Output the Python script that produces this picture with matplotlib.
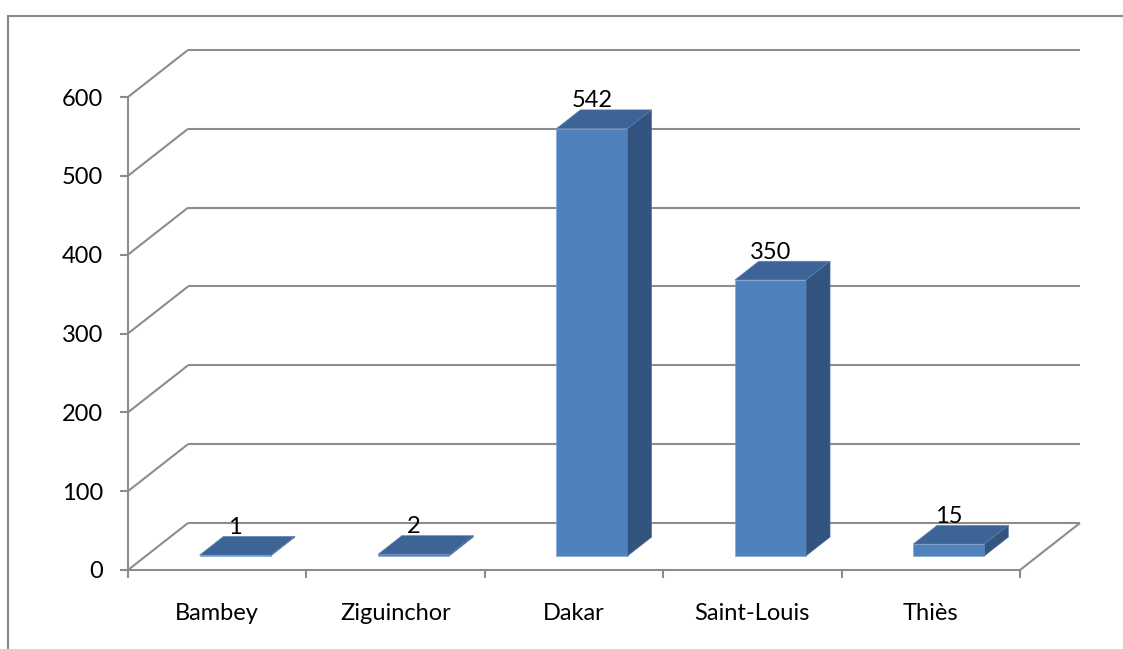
import matplotlib
matplotlib.use("Agg")
import matplotlib.pyplot as plt
from matplotlib.patches import Polygon, Rectangle
import numpy as np

# data
categories = ["Bambey", "Ziguinchor", "Dakar", "Saint-Louis", "Thiès"]
values = [1, 2, 542, 350, 15]
yticks = [0, 100, 200, 300, 400, 500, 600]

# look of the fake 3d box (display pixels for full depth)
DEPTH_DX, DEPTH_DY = 60, 47
BAR_D0, BAR_D1 = 0.3, 0.7
BAR_W = 0.4
GRID = "#8C8C8C"
FRONT, TOP, SIDE = "#4F81BD", "#3C6496", "#32547F"

plt.rcParams["font.family"] = ["Lato", "DejaVu Sans"]

W, H = 1123, 649
fig = plt.figure(figsize=(W / 100, H / 100), dpi=100)
ax = fig.add_axes([128 / W, (H - 570) / H, (1020 - 128) / W, (570 - 97) / H])
ax.set_xlim(-0.5, len(categories) - 0.5)
ax.set_ylim(0, 600)
ax.patch.set_visible(False)


def shift(x, y, d):
    # move a data point back into the depth of the box by fraction d
    px = ax.transData.transform((x, y)) + d * np.array([DEPTH_DX, DEPTH_DY])
    return ax.transData.inverted().transform(px)


def line(p, q, **kw):
    ax.plot([p[0], q[0]], [p[1], q[1]], color=GRID, lw=1.5,
            clip_on=False, solid_capstyle="butt", **kw)


x0, x1 = -0.5, len(categories) - 0.5
# back wall grid and left wall diagonals
for v in yticks:
    line(shift(x0, v, 1), shift(x1, v, 1), zorder=1)
    line((x0, v), shift(x0, v, 1), zorder=1)
# floor right edge
line((x1, 0), shift(x1, 0, 1), zorder=1)

# bars
for i, v in enumerate(values):
    l, r = i - BAR_W / 2, i + BAR_W / 2
    fl0, fr0 = shift(l, 0, BAR_D0), shift(r, 0, BAR_D0)
    fl1, fr1 = shift(l, v, BAR_D0), shift(r, v, BAR_D0)
    bl1, br1 = shift(l, v, BAR_D1), shift(r, v, BAR_D1)
    br0 = shift(r, 0, BAR_D1)
    ax.add_patch(Polygon([fl0, fr0, fr1, fl1], closed=True, fc=FRONT,
                         ec="#7FA3D0", lw=0.4, zorder=3, clip_on=False))
    ax.add_patch(Polygon([fl1, fr1, br1, bl1], closed=True, fc=TOP,
                         ec="#6C8EBC", lw=0.4, zorder=3, clip_on=False))
    ax.add_patch(Polygon([fr0, br0, br1, fr1], closed=True, fc=SIDE,
                         ec="#5A7BA8", lw=0.4, zorder=3, clip_on=False))
    tx = shift(i, v, BAR_D0)[0]
    ty = shift(i, v, BAR_D1)[1]
    ax.text(tx, ty - 2, str(v), ha="center", va="bottom", fontsize=17,
            color="black", zorder=4)

# axes
for s in ["top", "right"]:
    ax.spines[s].set_visible(False)
for s in ["left", "bottom"]:
    ax.spines[s].set_color(GRID)
    ax.spines[s].set_linewidth(1.5)
ax.set_yticks(yticks)
ax.tick_params(axis="y", length=6, width=1.5, color=GRID, pad=12,
               labelsize=17)
ax.set_xticks(range(len(categories)))
ax.set_xticklabels(categories)
ax.tick_params(axis="x", which="major", length=0, pad=24, labelsize=17)
ax.set_xticks(np.arange(-0.5, len(categories), 1), minor=True)
ax.tick_params(axis="x", which="minor", length=6, width=1.5, color=GRID)

# chart area border (runs off the right and bottom edges)
fig.patches.append(Rectangle((8 / W, -0.2), 1.2, (H - 16) / H + 0.2,
                             transform=fig.transFigure, fill=False,
                             ec="#888888", lw=1.5))

fig.savefig("out.png", dpi=100)
